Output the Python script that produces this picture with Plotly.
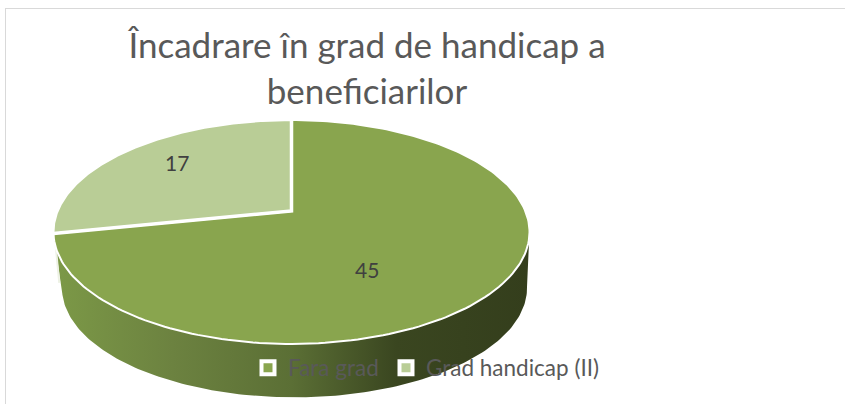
import numpy as np
import plotly.graph_objects as go

categories = ["Fara grad", "Grad handicap (II)"]
values = [45, 17]
colors = ["#89A54E", "#B9CD96"]
title_lines = ["Încadrare în grad de handicap a", "beneficiarilor"]

W, H = 845, 404
PERSP = 0.1875
WARP = 0.05


def rim(theta, cx, cy, ax, by):
    """Project a circle angle (clockwise from 12 o'clock) on the tilted disc."""
    theta = theta - WARP * np.sin(theta) ** 2
    u, v = np.sin(theta), np.cos(theta)
    d = 1 + PERSP * v
    return cx + ax * u / d, cy - by * v / d


TOP = (291.5, 211.0, 233.8, 108.0)
BOT = (294.5, 267.5, 228.4, 105.5)

fracs = np.array(values) / sum(values)
edges = np.concatenate([[0], np.cumsum(fracs)]) * 2 * np.pi

fig = go.Figure()

# side wall, from the right tangent of the disc to the slice edge on the left
t_top = np.linspace(np.radians(103), edges[1], 160)
tx, ty = rim(t_top, *TOP)
bx, by = rim(t_top[::-1], *BOT)
fig.add_trace(go.Scatter(
    x=np.concatenate([tx, bx]), y=np.concatenate([ty, by]),
    mode="lines", line=dict(width=0), fill="toself", showlegend=False, hoverinfo="skip",
    fillgradient=dict(type="horizontal", colorscale=[
        [0.0, "#7C9947"], [0.25, "#6C8240"], [0.5, "#5B6F35"],
        [0.72, "#3A4620"], [1.0, "#343E1C"]]),
))

# sliver of the second slice's wall at the left edge
sx0, sy0 = rim(edges[1], *TOP)
sx1, sy1 = rim(edges[1] + 0.06, *BOT)
fig.add_trace(go.Scatter(x=[sx0 + 1, sx1 - 3], y=[sy0, sy1], mode="lines",
                         line=dict(color="#EDF1E4", width=2),
                         showlegend=False, hoverinfo="skip"))

# top faces
for i in range(len(values)):
    t = np.linspace(edges[i], edges[i + 1], 200)
    x, y = rim(t, *TOP)
    fig.add_trace(go.Scatter(
        x=np.concatenate([[TOP[0]], x, [TOP[0]]]),
        y=np.concatenate([[TOP[1]], y, [TOP[1]]]),
        mode="lines", line=dict(color="white", width=2), fill="toself",
        fillcolor=colors[i], showlegend=False, name=categories[i],
        text=f"{categories[i]}: {values[i]}", hoverinfo="text",
    ))

# white radial edges between the slices
ex, ey = rim(edges[1], *TOP)
nx, ny = rim(edges[0], *TOP)
fig.add_trace(go.Scatter(x=[nx, TOP[0], ex], y=[ny, TOP[1], ey], mode="lines",
                         line=dict(color="white", width=3.5),
                         showlegend=False, hoverinfo="skip"))

# legend entries, one legend per entry for exact spacing
for name, c, lg in zip(categories, colors, ["legend", "legend2"]):
    fig.add_trace(go.Scatter(
        x=[None], y=[None], mode="markers", name=name, legend=lg,
        marker=dict(symbol="square", size=13, color=c, line=dict(color="white", width=4)),
    ))

legend_style = dict(orientation="h", y=1 - 368 / H, xanchor="left", yanchor="middle",
                    bgcolor="rgba(0,0,0,0)", font=dict(family="Lato", size=22.5, color="#595959"),
                    itemsizing="trace", itemwidth=30)

fig.update_layout(
    width=W, height=H, autosize=False,
    margin=dict(l=0, r=0, t=0, b=0),
    paper_bgcolor="white", plot_bgcolor="white",
    font=dict(family="Lato", color="#595959"),
    title=dict(text="<br>".join(title_lines), x=367 / W, xanchor="center", xref="paper",
               y=1 - 58 / H, yanchor="top", font=dict(family="Lato", size=35, color="#595959")),
    xaxis=dict(range=[0, W], visible=False, fixedrange=True),
    yaxis=dict(range=[H, 0], visible=False, fixedrange=True),
    legend=dict(x=248 / W, **legend_style),
    legend2=dict(x=386 / W, **legend_style),
    annotations=[
        dict(x=367, y=269, text=str(values[0]), showarrow=False, xref="x", yref="y",
             font=dict(family="Lato", size=21, color="#404040")),
        dict(x=177, y=162, text=str(values[1]), showarrow=False, xref="x", yref="y",
             font=dict(family="Lato", size=21, color="#404040")),
    ],
    shapes=[
        dict(type="line", xref="x", yref="y", x0=5, x1=W, y0=8.5, y1=8.5,
             line=dict(color="#D9D9D9", width=1), layer="below"),
        dict(type="line", xref="x", yref="y", x0=5.5, x1=5.5, y0=8, y1=H,
             line=dict(color="#D9D9D9", width=1), layer="below"),
    ],
)

fig.write_html("out.html", post_script="document.body.style.margin='0';",
               config={"displayModeBar": False})
